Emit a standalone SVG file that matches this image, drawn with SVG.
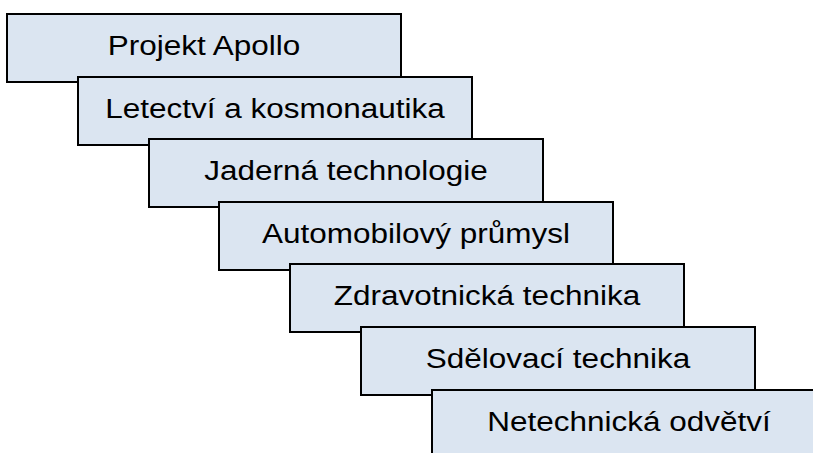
<svg xmlns="http://www.w3.org/2000/svg" width="813" height="453" viewBox="0 0 813 453">
  <style>
    .box { fill: #DBE5F1; stroke: #000; stroke-width: 2; }
    .lbl { font-family: "Liberation Sans", Arial, sans-serif; font-size: 28px; fill: #000; text-anchor: middle; }
  </style>
  <rect width="813" height="453" fill="#fff"/>
  <g id="n1"><rect class="box" x="7" y="14" width="394" height="68"/><text class="lbl" transform="translate(204,55) scale(1.125,1)">Projekt Apollo</text></g>
  <g id="n2"><rect class="box" x="78" y="77" width="394" height="68"/><text class="lbl" transform="translate(275,118) scale(1.125,1)">Letectví a kosmonautika</text></g>
  <g id="n3"><rect class="box" x="149" y="139" width="394" height="68"/><text class="lbl" transform="translate(346,180) scale(1.125,1)">Jaderná technologie</text></g>
  <g id="n4"><rect class="box" x="219" y="202" width="394" height="68"/><text class="lbl" transform="translate(416,243) scale(1.125,1)">Automobilový průmysl</text></g>
  <g id="n5"><rect class="box" x="290" y="264" width="394" height="68"/><text class="lbl" transform="translate(487,305) scale(1.125,1)">Zdravotnická technika</text></g>
  <g id="n6"><rect class="box" x="361" y="327" width="394" height="68"/><text class="lbl" transform="translate(558,368) scale(1.125,1)">Sdělovací technika</text></g>
  <g id="n7"><rect class="box" x="432" y="390" width="394" height="68"/><text class="lbl" transform="translate(629,431) scale(1.125,1)">Netechnická odvětví</text></g>
  <g id="connectors"></g>
</svg>
